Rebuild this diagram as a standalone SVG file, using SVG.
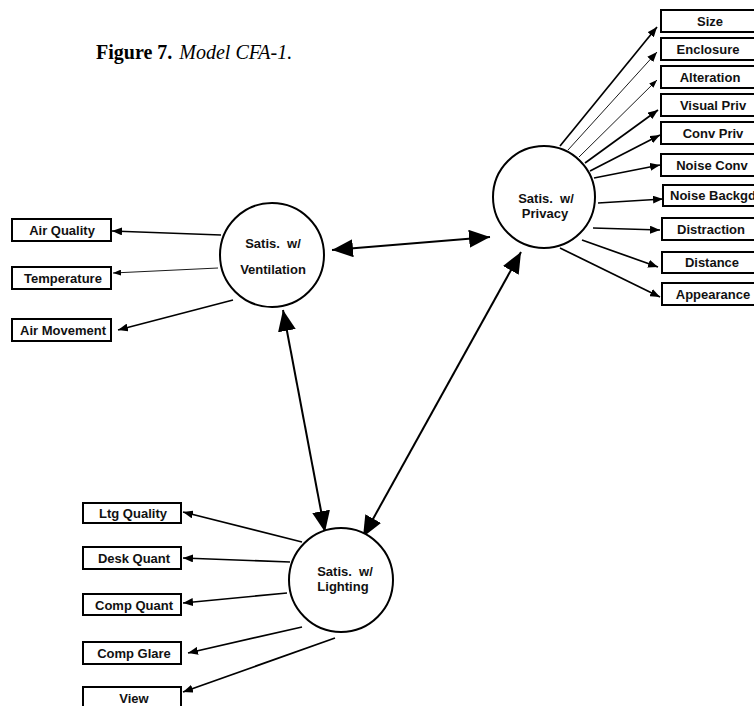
<svg xmlns="http://www.w3.org/2000/svg" width="754" height="706" viewBox="0 0 754 706">
  <defs>
    <style>
      .bg { fill: #ffffff; }
      .box { fill: #ffffff; stroke: #000000; stroke-width: 2; }
      .circ { fill: #ffffff; stroke: #000000; stroke-width: 2; }
      .lbl { font-family: "Liberation Sans", Arial, sans-serif; font-weight: bold; font-size: 13px; fill: #111111; text-anchor: middle; white-space: pre; }
      .title { font-family: "Liberation Serif", "Times New Roman", serif; font-size: 20px; fill: #000000; }
      .edge { fill: none; stroke: #000000; stroke-width: 1.7; }
      .edge.thin { stroke-width: 0.9; }
      .edge.link { stroke-width: 2; }
    </style>
    <marker id="tip" markerUnits="userSpaceOnUse" markerWidth="10" markerHeight="8" refX="10" refY="4" orient="auto">
      <path d="M0,0 L10,4 L0,8 Z" fill="#000000"/>
    </marker>
    <marker id="tipSmall" markerUnits="userSpaceOnUse" markerWidth="8" markerHeight="6" refX="8" refY="3" orient="auto">
      <path d="M0,0 L8,3 L0,6 Z" fill="#000000"/>
    </marker>
    <marker id="bigTip" markerUnits="userSpaceOnUse" markerWidth="21" markerHeight="18" refX="21" refY="9" orient="auto-start-reverse">
      <path d="M0,0 L21,9 L0,18 Z" fill="#000000"/>
    </marker>
  </defs>

  <rect class="bg" x="0" y="0" width="754" height="706"/>

  <text class="title" x="96" y="59"><tspan font-weight="bold">Figure 7.</tspan><tspan font-style="italic" dx="7">Model CFA-1.</tspan></text>

  <!-- connectors -->
  <g id="connectors">
    <!-- between the three satisfaction factors -->
    <line class="edge link" x1="332" y1="250" x2="490" y2="237" marker-start="url(#bigTip)" marker-end="url(#bigTip)"/>
    <line class="edge link" x1="283" y1="310" x2="325" y2="532" marker-start="url(#bigTip)" marker-end="url(#bigTip)"/>
    <line class="edge link" x1="521" y1="252" x2="363" y2="537" marker-start="url(#bigTip)" marker-end="url(#bigTip)"/>

    <!-- ventilation indicators -->
    <line class="edge" x1="221" y1="235" x2="112" y2="231" marker-end="url(#tip)"/>
    <line class="edge thin" x1="218" y1="268" x2="113" y2="273" marker-end="url(#tipSmall)"/>
    <line class="edge" x1="233" y1="300" x2="118" y2="330" marker-end="url(#tip)"/>

    <!-- privacy indicators -->
    <line class="edge" x1="560" y1="146" x2="657" y2="27" marker-end="url(#tip)"/>
    <line class="edge thin" x1="568" y1="150" x2="657" y2="52" marker-end="url(#tip)"/>
    <line class="edge thin" x1="579" y1="157" x2="657" y2="80" marker-end="url(#tipSmall)"/>
    <line class="edge" x1="585" y1="163" x2="658" y2="110" marker-end="url(#tip)"/>
    <line class="edge" x1="590" y1="171" x2="660" y2="135" marker-end="url(#tip)"/>
    <line class="edge" x1="594" y1="178" x2="660" y2="165" marker-end="url(#tip)"/>
    <line class="edge" x1="598" y1="203" x2="663" y2="199" marker-end="url(#tip)"/>
    <line class="edge" x1="593" y1="228" x2="660" y2="230" marker-end="url(#tip)"/>
    <line class="edge" x1="582" y1="240" x2="658" y2="267" marker-end="url(#tip)"/>
    <line class="edge" x1="560" y1="248" x2="660" y2="297" marker-end="url(#tip)"/>

    <!-- lighting indicators -->
    <line class="edge" x1="302" y1="542" x2="183" y2="512" marker-end="url(#tip)"/>
    <line class="edge" x1="290" y1="562" x2="183" y2="558" marker-end="url(#tip)" stroke-width="2.4"/>
    <line class="edge" x1="287" y1="593" x2="183" y2="603" marker-end="url(#tip)"/>
    <line class="edge" x1="302" y1="627" x2="188" y2="653" marker-end="url(#tip)"/>
    <line class="edge" x1="335" y1="638" x2="183" y2="692" marker-end="url(#tip)"/>
  </g>

  <!-- latent factors -->
  <g id="ventilation">
    <circle class="circ" cx="272" cy="255" r="52"/>
    <text class="lbl" x="273" y="248">Satis.  w/</text>
    <text class="lbl" x="273" y="274">Ventilation</text>
  </g>
  <g id="privacy">
    <circle class="circ" cx="544" cy="197" r="51"/>
    <text class="lbl" x="546" y="203">Satis.  w/</text>
    <text class="lbl" x="545" y="218">Privacy</text>
  </g>
  <g id="lighting">
    <circle class="circ" cx="341" cy="580" r="52"/>
    <text class="lbl" x="345" y="576">Satis.  w/</text>
    <text class="lbl" x="343" y="591">Lighting</text>
  </g>

  <!-- ventilation indicator boxes -->
  <g id="air-quality"><rect class="box" x="12" y="219" width="99" height="22"/><text class="lbl" x="62" y="235">Air Quality</text></g>
  <g id="temperature"><rect class="box" x="12" y="267" width="99" height="22"/><text class="lbl" x="63" y="283">Temperature</text></g>
  <g id="air-movement"><rect class="box" x="12" y="319" width="99" height="22"/><text class="lbl" x="63" y="335">Air Movement</text></g>

  <!-- privacy indicator boxes -->
  <g id="size"><rect class="box" x="661" y="10" width="110" height="22"/><text class="lbl" x="710" y="26">Size</text></g>
  <g id="enclosure"><rect class="box" x="661" y="38" width="110" height="22"/><text class="lbl" x="708" y="54">Enclosure</text></g>
  <g id="alteration"><rect class="box" x="661" y="66" width="110" height="22"/><text class="lbl" x="710" y="82">Alteration</text></g>
  <g id="visual-priv"><rect class="box" x="661" y="94" width="110" height="22"/><text class="lbl" x="713" y="110">Visual Priv</text></g>
  <g id="conv-priv"><rect class="box" x="661" y="122" width="110" height="22"/><text class="lbl" x="713" y="138">Conv Priv</text></g>
  <g id="noise-conv"><rect class="box" x="661" y="154" width="110" height="22"/><text class="lbl" x="712" y="170">Noise Conv</text></g>
  <g id="noise-backgd"><rect class="box" x="663" y="185" width="110" height="21"/><text class="lbl" x="713" y="200">Noise Backgd</text></g>
  <g id="distraction"><rect class="box" x="662" y="218" width="110" height="22"/><text class="lbl" x="711" y="234">Distraction</text></g>
  <g id="distance"><rect class="box" x="662" y="252" width="110" height="21"/><text class="lbl" x="712" y="267">Distance</text></g>
  <g id="appearance"><rect class="box" x="662" y="283" width="110" height="22"/><text class="lbl" x="713" y="299">Appearance</text></g>

  <!-- lighting indicator boxes -->
  <g id="ltg-quality"><rect class="box" x="83" y="503" width="98" height="20"/><text class="lbl" x="133" y="518">Ltg Quality</text></g>
  <g id="desk-quant"><rect class="box" x="83" y="547" width="98" height="22"/><text class="lbl" x="134" y="563">Desk Quant</text></g>
  <g id="comp-quant"><rect class="box" x="83" y="594" width="98" height="21"/><text class="lbl" x="134" y="610">Comp Quant</text></g>
  <g id="comp-glare"><rect class="box" x="83" y="642" width="98" height="22"/><text class="lbl" x="134" y="658">Comp Glare</text></g>
  <g id="view"><rect class="box" x="83" y="687" width="98" height="30"/><text class="lbl" x="134" y="703">View</text></g>
</svg>
